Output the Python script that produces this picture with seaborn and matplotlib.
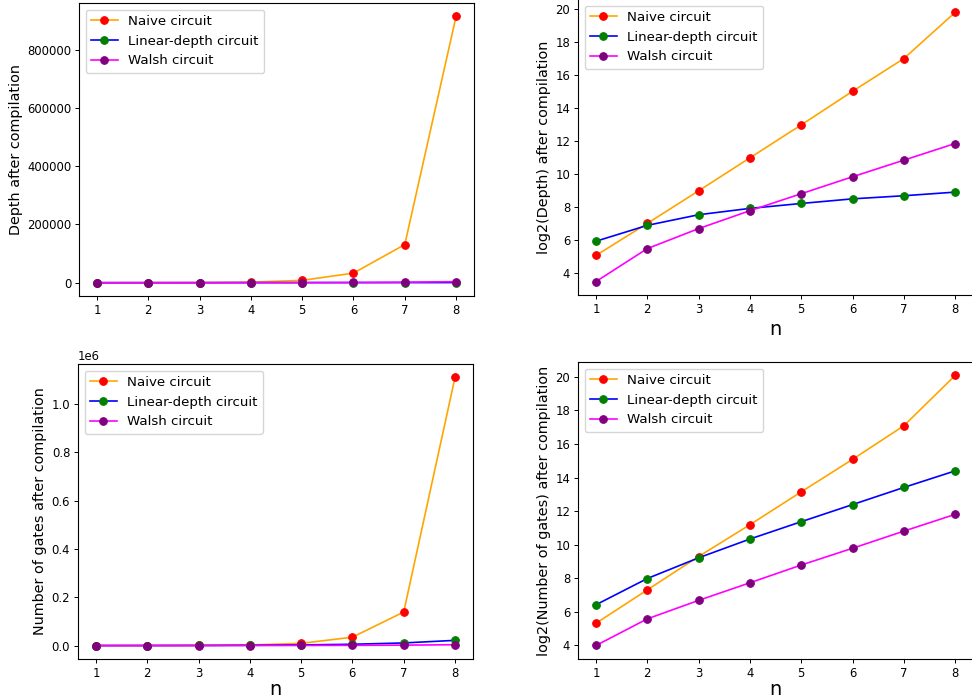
import numpy as np
import pandas as pd
import matplotlib
matplotlib.use("Agg")
import matplotlib.pyplot as plt
import seaborn as sns

# data
n = [1, 2, 3, 4, 5, 6, 7, 8]
naive_depth = [33, 127, 501, 2005, 8030, 33000, 131000, 915000]
linear_depth = [60, 117, 183, 239, 294, 357, 407, 474]
walsh_depth = [11, 44, 102, 217, 443, 904, 1820, 3670]
naive_gates = [40, 159, 630, 2340, 9090, 34700, 139000, 1110000]
linear_gates = [86, 254, 597, 1296, 2650, 5370, 10900, 21600]
walsh_gates = [16, 48, 103, 213, 443, 885, 1795, 3590]

names = ["Naive circuit", "Linear-depth circuit", "Walsh circuit"]
line_cols = ["orange", "blue", "magenta"]
dot_cols = ["red", "green", "purple"]

# the reference looks like a default figure shrunk by ~0.8
plt.rcParams.update({
    "xtick.labelsize": 8.4, "ytick.labelsize": 8.4,
    "xtick.major.size": 2.8, "ytick.major.size": 2.8,
    "xtick.major.pad": 2.8, "ytick.major.pad": 2.8,
    "xtick.major.width": 0.7, "ytick.major.width": 0.7,
    "axes.linewidth": 0.8, "axes.labelpad": 3.2,
})

fig = plt.figure(figsize=(9.72, 7.0), dpi=100)
ax1 = fig.add_axes([0.0813, 0.5771, 0.4064, 0.4186])
ax2 = fig.add_axes([0.5947, 0.5786, 0.4064, 0.4229])
ax3 = fig.add_axes([0.0802, 0.0586, 0.4064, 0.4214])
ax4 = fig.add_axes([0.5947, 0.0586, 0.4064, 0.4243])


def draw(ax, series, ylabel, log=False, xlabel=True, xpad=3.2):
    for vals, name, lc, dc in zip(series, names, line_cols, dot_cols):
        y = np.log2(vals) if log else np.array(vals)
        df = pd.DataFrame({"n": n, "y": y})
        sns.lineplot(data=df, x="n", y="y", ax=ax, color=lc, marker="o",
                     markersize=5.5, linewidth=1.2, markerfacecolor=dc,
                     markeredgecolor=dc, label=name)
    ax.set_xticks(n)
    ax.set_ylabel(ylabel, fontsize=10.4)
    ax.set_xlabel("n" if xlabel else "", fontsize=14, labelpad=xpad)
    ax.legend(loc="upper left", fontsize=9.6)
    ax.yaxis.get_offset_text().set_fontsize(8.4)


draw(ax1, [naive_depth, linear_depth, walsh_depth], "Depth after compilation", xlabel=False)
draw(ax2, [naive_depth, linear_depth, walsh_depth], "log2(Depth) after compilation", log=True)
draw(ax3, [naive_gates, linear_gates, walsh_gates], "Number of gates after compilation", xpad=0.5)
draw(ax4, [naive_gates, linear_gates, walsh_gates], "log2(Number of gates) after compilation", log=True, xpad=0.5)
ax2.set_yticks(np.arange(4, 21, 2))
ax4.set_yticks(np.arange(4, 21, 2))

fig.savefig("out.png", dpi=100)
